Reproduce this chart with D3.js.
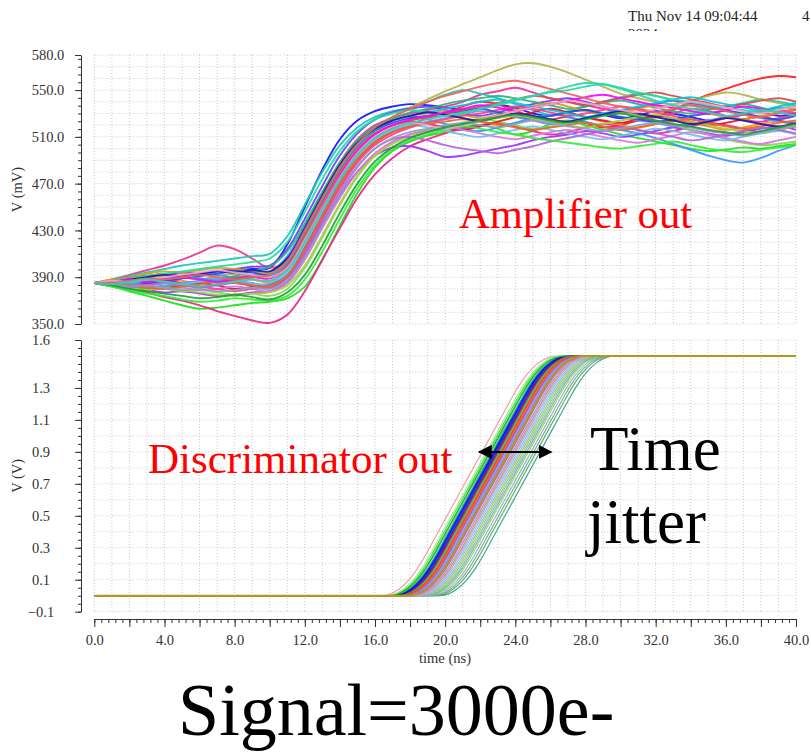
<!DOCTYPE html>
<html><head><meta charset="utf-8">
<script src="https://cdn.jsdelivr.net/npm/d3@7"></script>
<style>
html,body{margin:0;padding:0;background:#fff;}
svg{display:block;}
svg text{font-family:"Liberation Serif","DejaVu Serif",serif;}
</style></head>
<body>
<svg id="chart" width="811" height="752"></svg>
<script>
// ---------------- DATA ----------------
const topTimes = [0,1,2,3,4,5,6,7,8,9,10,11,12,13,14,15,16,17,18,19,20,21,22,23,24,25,26,27,28,29,30,31,32,33,34,35,36,37,38,39,40];

const topCurves = [
 [385,387,389,391,392,394,393,395,396,397,398, 418,450,482,508,524,532,536,538,537,535, 533,534,537,535,530,528,531,533,529,526, 528,532,530,527,524,526,529,531,528,530],
 [385,383,386,384,387,385,382,384,386,383,381, 390,412,440,468,490,505,514,520,526,530, 536,540,538,532,528,525,527,522,518,520, 524,527,533,540,546,551,556,560,562,561],
 [385,382,378,374,370,366,363,364,366,368,369, 372,382,405,434,462,484,498,506,511,514, 518,520,517,512,515,521,524,520,516,512, 509,506,503,500,498,499,501,500,502,504],
 [385,388,392,396,400,405,411,417,414,406,398, 405,430,460,488,508,520,526,530,533,536, 540,546,549,552,548,543,540,537,534,531, 529,527,530,534,532,528,525,523,526,529],
 [385,383,380,377,373,370,366,361,357,353,351, 358,378,405,432,458,478,492,502,508,513, 517,520,522,519,515,512,514,518,521,519, 516,513,515,519,522,520,517,514,516,519],
 [385,388,391,394,397,400,402,404,406,408,410, 425,452,480,503,518,527,532,535,540,546, 550,547,543,538,533,529,532,536,540,544, 547,545,541,537,534,536,539,542,540,537],
 [385,386,384,386,389,387,385,388,390,388,386, 398,424,452,478,498,512,520,524,527,529, 526,523,520,522,525,528,530,527,523,520, 518,521,524,522,519,516,518,521,523,520],
 [385,384,381,379,377,378,376,374,375,377,378, 386,408,435,460,480,494,501,502,498,493, 494,497,500,503,507,510,512,515,513,510, 512,515,518,516,513,511,514,517,519,516],
 [385,387,386,389,391,390,388,391,393,391,389, 400,425,455,482,503,517,527,535,542,549, 555,561,567,572,573,570,565,559,553,547, 543,540,538,541,545,548,546,542,539,536],
 [385,383,381,382,380,378,379,377,375,376,374, 380,398,424,452,476,494,505,512,516,519, 522,525,523,520,517,519,523,526,529,531, 528,524,520,516,512,508,505,503,504,506],
 [385,386,388,387,389,391,393,392,390,392,394, 408,434,462,488,506,518,524,527,525,521, 517,515,518,522,526,529,527,523,519,516, 513,509,504,499,494,490,488,492,498,503],
 [385,384,385,383,381,383,385,383,380,382,384, 392,416,444,472,494,509,518,523,521,518, 516,519,523,527,531,534,531,527,524,522, 525,528,526,523,520,522,525,527,524,521],
 [385,387,390,388,386,389,392,395,397,399,400, 414,440,468,494,513,525,531,534,536,533, 530,528,531,535,538,541,543,540,536,533, 535,538,541,539,536,533,530,532,535,533],
 [385,385,382,380,382,384,386,388,391,395,399, 412,436,463,488,507,519,526,531,534,538, 541,543,545,543,540,537,534,536,539,541, 538,535,532,530,533,536,538,535,532,530],
 [385,383,384,382,380,381,379,380,382,380,378, 385,405,432,458,480,496,506,512,515,518, 516,513,510,508,511,514,516,513,510,507, 505,508,511,514,512,509,506,504,507,510],
 [385,386,384,385,383,385,387,389,387,385,383, 392,414,442,469,491,506,515,520,523,526, 529,532,530,527,524,521,523,526,529,527, 524,522,519,521,524,527,529,526,523,521],
 [385,388,390,393,395,394,396,398,397,395,393, 404,430,458,484,504,517,524,528,530,532, 529,526,529,533,536,539,536,532,529,531, 534,537,535,532,530,527,525,528,531,534],
 [385,384,382,384,386,384,382,380,378,380,382, 390,412,440,466,488,503,512,518,522,525, 528,530,533,536,534,531,528,530,533,536, 534,531,528,525,523,526,529,531,533,530],
 [385,386,387,385,387,389,391,393,395,394,392, 402,428,456,482,502,515,522,526,528,530, 532,534,531,528,526,528,531,533,530,527, 525,523,525,528,530,532,530,527,525,528],
 [385,383,381,379,381,379,377,375,374,376,377, 383,400,426,453,477,494,504,510,514,517, 520,523,526,528,526,523,520,518,521,524, 527,529,526,523,520,517,515,513,516,519],
 [385,384,386,388,386,384,386,388,386,384,385, 394,418,446,473,494,508,516,520,518,515, 512,510,513,516,519,516,513,510,508,511, 514,517,515,512,509,507,510,513,515,512],
 [385,387,389,391,393,391,389,387,389,391,390, 400,426,454,480,500,513,520,524,527,530, 533,536,539,542,545,543,540,537,540,543, 546,548,545,542,539,536,538,541,543,540],
 [385,383,381,383,385,383,381,383,385,383,381, 389,410,437,463,485,500,508,510,507,503, 500,498,496,499,502,506,509,512,515,518, 516,513,510,507,509,512,515,518,516,513],
 [385,386,385,387,389,391,389,387,388,390,391, 403,429,457,483,503,516,524,528,531,534, 537,540,542,539,536,533,530,527,530,533, 536,539,542,544,541,538,535,533,536,539],
 [385,387,389,391,393,395,397,399,401,403,406, 420,446,474,498,515,525,530,533,531,528, 530,534,538,542,545,548,550,553,555,552, 548,545,542,540,537,535,533,531,534,537],
 [385,384,383,381,380,382,384,386,385,383,382, 391,414,442,469,491,506,514,519,521,523, 525,523,521,518,516,518,520,522,519,516, 518,521,523,525,522,519,517,519,522,524],
 [385,386,388,390,392,391,393,395,394,396,395, 406,432,460,486,505,517,524,528,531,529, 526,524,527,530,528,525,523,526,529,532, 530,527,524,521,523,526,524,521,519,522],
 [385,382,379,376,374,371,369,370,372,371,370, 374,388,412,440,466,486,499,507,512,516, 519,517,514,512,509,507,505,503,501,500, 502,504,506,503,500,498,497,499,501,503],
 [385,386,388,386,388,390,388,386,388,390,389, 398,422,450,477,498,512,520,525,528,531, 534,537,535,532,535,538,541,544,546,543, 540,537,535,532,530,533,536,534,531,529],
 [385,384,382,383,381,379,380,378,379,381,380, 387,407,434,461,484,500,509,514,517,520, 522,520,518,521,524,522,519,517,515,517, 520,522,520,518,515,513,511,514,517,519],
 [385,387,386,388,390,392,394,396,394,392,390, 398,422,449,475,496,510,518,522,520,517, 520,524,528,532,535,538,541,539,536,533, 531,534,537,540,538,535,532,530,533,536],
 [385,383,380,378,376,374,372,373,375,373,371, 377,392,417,445,470,489,501,509,514,518, 521,524,527,529,527,524,522,525,528,530, 527,524,521,519,516,514,512,515,518,521],
 [385,385,387,389,388,390,392,390,388,390,392, 404,430,458,484,504,518,527,534,540,545, 549,553,556,558,555,551,547,543,539,536, 533,531,534,537,535,532,529,527,530,533],
 [385,384,386,388,386,384,382,384,386,388,387, 396,420,448,474,495,509,517,522,525,528, 531,534,537,541,545,549,553,556,555,551, 546,541,537,534,531,528,530,533,531,528]
];
const topColors = ['#1414ff','#ff1a1a','#22dd22','#ee3399','#ee2288','#19c9b4','#ff8c1a','#9b30ff','#b5b34a','#7ed957',
 '#3399ff','#e0102f','#6a3dff','#2fb37a','#e070e0','#6f8fef','#d4a017','#ff3d8b','#2d4fe0','#a6d13a',
 '#70bfe8','#d05050','#b462e0','#00c8e0','#1ee0a0','#e06a2a','#1a1aa8','#33ee33','#ff00ff','#8aa0c0',
 '#f4a0c8','#1f9e3a','#f25f5c','#30d0b0'];

// discriminator output: common edge shape (time offset from 0.75 V crossing, volts) + per-run delay
const discShapeDt = [-5,-4.5,-4,-3.5,-3,-2.5,-2,-1.5,-1,-0.5,0,0.5,1,1.5,2,2.5,3,3.5,4,4.5,5];
const discShapeV  = [0,0.01,0.04,0.09,0.16,0.25,0.35,0.45,0.55,0.65,0.75,0.85,0.95,1.05,1.15,1.25,1.34,1.41,1.46,1.49,1.5];
const discLow = 0, discHigh = 1.5;
const discDelays = [21.36,24.66,21.7,22.0,22.1,21.85,22.2,22.5,22.6,22.3,21.95,22.4,22.8,23.0,22.7,23.2,23.4,22.9,23.6,23.3,
 23.8,24.0,24.3,22.55,22.15,23.1,24.45,21.6,22.05,22.25,22.35,22.65,22.75,22.85,22.95,23.5,23.7,23.9,24.15,21.8,22.45,23.25,22.9];
const discColors = ['#f0949e','#2a9d8f','#33dd33','#1a1aff','#2222ee','#3cb44b','#0000cc','#ff2020','#e61919','#1f3fff',
 '#00aa66','#55cc55','#9966ff','#7aa6ff','#c8a0ff','#a0a040','#66ccdd','#ee66aa','#88cc66','#b0a0e0',
 '#77bbbb','#99cc55','#66aa88','#ff6a00','#0033dd','#cc66cc','#55aa55','#99ee99','#0000ff','#e01010',
 '#22cc44','#8866ee','#6699ff','#bb88dd','#dd4444','#9fb0d8','#aabb66','#5fb8a8','#8fa8c8','#11bb11',
 '#ff3333','#d4a0d4','#b8961e'];

const topTickVals = [350,390,430,470,510,550,580];
const botTickVals = [-0.1,0.1,0.3,0.5,0.7,0.9,1.1,1.3,1.6];
const xTickVals = [0,4,8,12,16,20,24,28,32,36,40];
const arrowT = [21.88, 26.1], arrowV = 0.9;

// ---------------- LAYOUT ----------------
const svg = d3.select('#chart');
const x = d3.scaleLinear().domain([0,40]).range([94.3,796]);
const yTop = d3.scaleLinear().domain([350,580]).range([324,55]);
const yBot = d3.scaleLinear().domain([-0.1,1.6]).range([611.7,340]);
const axisX = 81, xAxisY = 619;
const tickColor = '#333', gridColor = '#c9c9c9';

function grid(yScale, hVals) {
  const g = svg.append('g');
  const vVals = d3.range(0, 40.001, 1);
  g.selectAll('line.v').data(vVals).join('line')
    .attr('x1', d=>x(d)).attr('x2', d=>x(d))
    .attr('y1', yScale.range()[1]).attr('y2', yScale.range()[0])
    .attr('stroke', gridColor).attr('stroke-width', 1).attr('stroke-dasharray','1,2');
  g.selectAll('line.h').data(hVals).join('line')
    .attr('y1', d=>yScale(d)).attr('y2', d=>yScale(d))
    .attr('x1', x(0)).attr('x2', x(40))
    .attr('stroke', gridColor).attr('stroke-width', 1).attr('stroke-dasharray','1,2');
}
grid(yTop, d3.range(350, 580.01, 10));
grid(yBot, d3.range(-0.1, 1.601, 0.1));

// clip paths
const defs = svg.append('defs');
defs.append('clipPath').attr('id','clipTop').append('rect')
  .attr('x', x(0)).attr('y', yTop(580)-2).attr('width', x(40)-x(0)).attr('height', yTop(350)-yTop(580)+4);
defs.append('clipPath').attr('id','clipBot').append('rect')
  .attr('x', x(0)).attr('y', yBot(1.6)).attr('width', x(40)-x(0)+1).attr('height', yBot(-0.1)-yBot(1.6));
defs.append('clipPath').attr('id','clipDate').append('rect')
  .attr('x', 600).attr('y', 0).attr('width', 211).attr('height', 31);
defs.append('marker').attr('id','ah').attr('viewBox','0 0 10 10').attr('refX',9).attr('refY',5)
  .attr('markerWidth',7).attr('markerHeight',7).attr('orient','auto-start-reverse').attr('markerUnits','strokeWidth')
  .append('path').attr('d','M0,0 L10,5 L0,10 Z').attr('fill','#000');

// top curves
const lineTop = d3.line().x((d,i)=>x(topTimes[i])).y(d=>yTop(d)).curve(d3.curveCatmullRom.alpha(0.5));
svg.append('g').attr('clip-path','url(#clipTop)')
  .selectAll('path').data(topCurves).join('path')
  .attr('d', d=>lineTop(d)).attr('fill','none')
  .attr('stroke', (d,i)=>topColors[i % topColors.length]).attr('stroke-width',1.9).attr('stroke-opacity',0.92);

// bottom curves
const lineBot = d3.line().x(d=>x(d[0])).y(d=>yBot(d[1])).curve(d3.curveMonotoneX);
const discRuns = discDelays.map(t0 => [[0,discLow]].concat(discShapeDt.map((dt,j)=>[t0+dt, discShapeV[j]])).concat([[40,discHigh]]));
svg.append('g').attr('clip-path','url(#clipBot)')
  .selectAll('path').data(discRuns).join('path')
  .attr('d', d=>lineBot(d)).attr('fill','none')
  .attr('stroke', (d,i)=>discColors[i]).attr('stroke-width',(d,i)=> i===discRuns.length-1 ? 2 : 1.2)
  .attr('stroke-opacity',(d,i)=> i===discRuns.length-1 ? 1 : 0.9);

// axes
function styleAxis(g){ g.attr('font-family', null); g.selectAll('path,line').attr('stroke', tickColor); g.selectAll('text').attr('fill','#333'); }
const fmt = d3.format('.1f');

// top y axis
const topMinor = d3.range(350, 580.01, 40/6).concat([580]);
svg.append('g').attr('transform',`translate(${axisX},0)`)
  .call(d3.axisLeft(yTop).tickValues(topMinor).tickSize(3).tickSizeOuter(0).tickFormat(''))
  .call(styleAxis);
const gTopY = svg.append('g').attr('transform',`translate(${axisX},0)`)
  .call(d3.axisLeft(yTop).tickValues(topTickVals).tickSize(6).tickSizeOuter(0).tickFormat(fmt))
  .call(styleAxis);
gTopY.select('.domain').remove();
gTopY.selectAll('text').attr('x',-33).attr('text-anchor','middle').style('font-size','14.5px');

// bottom y axis
const botMinor = d3.range(-0.1, 1.6001, 0.05);
svg.append('g').attr('transform',`translate(${axisX},0)`)
  .call(d3.axisLeft(yBot).tickValues(botMinor).tickSize(3).tickSizeOuter(0).tickFormat(''))
  .call(styleAxis);
const gBotY = svg.append('g').attr('transform',`translate(${axisX},0)`)
  .call(d3.axisLeft(yBot).tickValues(botTickVals).tickSize(6).tickSizeOuter(0).tickFormat(fmt))
  .call(styleAxis);
gBotY.select('.domain').remove();
gBotY.selectAll('text').attr('x',-40).attr('text-anchor','middle').style('font-size','14.5px');

// x axis
svg.append('g').attr('transform',`translate(0,${xAxisY})`)
  .call(d3.axisBottom(x).tickValues(d3.range(0,40.001,0.4)).tickSize(4).tickSizeOuter(0).tickFormat(''))
  .call(styleAxis);
svg.append('g').attr('transform',`translate(0,${xAxisY})`)
  .call(d3.axisBottom(x).tickValues(d3.range(0,40.001,2)).tickSize(8).tickSizeOuter(0).tickFormat(''))
  .call(styleAxis).select('.domain').remove();
const gX = svg.append('g').attr('transform',`translate(0,${xAxisY})`)
  .call(d3.axisBottom(x).tickValues(xTickVals).tickSize(0).tickFormat(fmt))
  .call(styleAxis);
gX.select('.domain').remove();
gX.selectAll('text').attr('y',26).attr('dy',0).style('font-size','14.5px');

function txt(xp, yp, s, size, fill){
  return svg.append('text').attr('x',xp).attr('y',yp).attr('fill',fill)
    .style('font-size',size+'px').text(s);
}

// axis titles
svg.append('text').attr('transform',`translate(22,${(yTop(350)+yTop(580))/2}) rotate(-90)`)
  .attr('text-anchor','middle').attr('fill','#333').style('font-size','14.5px').text('V (mV)');
svg.append('text').attr('transform',`translate(22,${(yBot(-0.1)+yBot(1.6))/2}) rotate(-90)`)
  .attr('text-anchor','middle').attr('fill','#333').style('font-size','14.5px').text('V (V)');
txt(445, 663, 'time (ns)', 14.5, '#333').attr('text-anchor','middle');

// date stamp
txt(628, 21, 'Thu Nov 14 09:04:44', 15, '#222');
txt(802, 21, '4', 15, '#222');
txt(628, 39, '2024', 15, '#222').attr('clip-path','url(#clipDate)');

// annotations
txt(459, 228, 'Amplifier out', 42.6, '#ff0000');
txt(148, 473, 'Discriminator out', 43, '#ff0000');
txt(590, 470, 'Time', 63, '#000');
txt(587, 543, 'jitter', 63, '#000');
txt(178, 735, 'Signal=3000e-', 74, '#000');

// jitter arrow
svg.append('line').attr('x1',x(arrowT[0])+1).attr('x2',x(arrowT[1])-1)
  .attr('y1',yBot(arrowV)).attr('y2',yBot(arrowV))
  .attr('stroke','#000').attr('stroke-width',2)
  .attr('marker-start','url(#ah)').attr('marker-end','url(#ah)');
</script>
</body></html>
